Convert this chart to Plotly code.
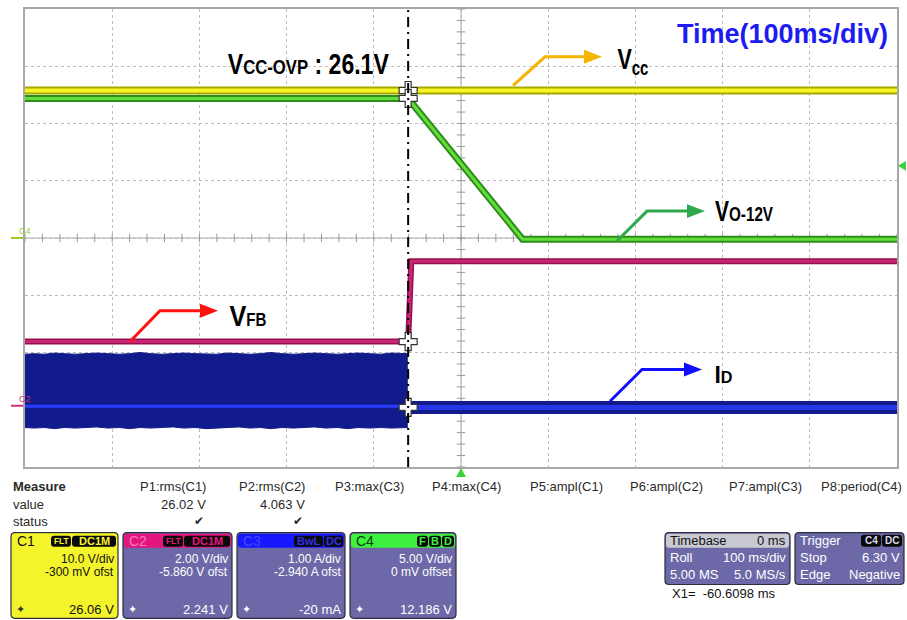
import plotly.graph_objects as go

# ---------------- data ----------------
X_RANGE_MS = [-500, 500]          # 100 ms/div, 10 divisions
Y_RANGE_DIV = [-4, 4]             # 8 vertical divisions

CH_NAMES = ["C1", "C2", "C3", "C4"]
CH_SCALE = [10.0, 2.00, 1.00, 5.00]        # units / div
CH_OFFSET = [-0.300, -5.860, -2.940, 0.0]  # offset (V or A)

CURSOR_X1_MS = -60.6098
CURSOR_VALUES = [26.06, 2.241, -0.020, 12.186]   # C1, C2, C3, C4 at X1
TRIGGER_LEVEL_V = 6.30                           # on C4
TRIGGER_TIME_MS = 0.0

# C1 : Vcc (V)
vcc_t = [-500, 500]
vcc_v = [26.06, 26.06]

# C4 : Vo-12V (V)
vo_t = [-500, -60.61, 70.5, 500]
vo_v = [12.186, 12.186, -0.10, -0.10]

# C2 : VFB (V)
vfb_t = [-500, -60.61, -57.0, 500]
vfb_v = [2.241, 2.241, 5.05, 5.05]

# C3 : ID (A) switching burst envelope before OVP stop
id_burst_t = [-500, -490, -478, -466, -455, -442, -430, -418, -405, -392, -380, -368, -356,
              -343, -330, -318, -305, -292, -280, -268, -255, -242, -230, -218, -205, -192,
              -180, -168, -155, -142, -130, -118, -105, -92, -80, -70, -61]
id_burst_hi = [0.91, 0.92, 0.91, 0.93, 0.92, 0.91, 0.92, 0.93, 0.92, 0.91, 0.92, 0.94, 0.92,
               0.91, 0.92, 0.93, 0.92, 0.92, 0.91, 0.93, 0.92, 0.91, 0.92, 0.94, 0.92, 0.91,
               0.92, 0.93, 0.92, 0.91, 0.92, 0.93, 0.92, 0.91, 0.93, 0.92, 0.92]
id_burst_lo = [-0.37, -0.38, -0.37, -0.39, -0.37, -0.38, -0.37, -0.36, -0.38, -0.37, -0.39, -0.37,
               -0.38, -0.37, -0.36, -0.38, -0.37, -0.39, -0.38, -0.37, -0.36, -0.38, -0.37, -0.39,
               -0.37, -0.38, -0.37, -0.36, -0.38, -0.37, -0.39, -0.37, -0.38, -0.37, -0.38, -0.37, -0.37]
id_burst_mid_t = [-500, -61]
id_burst_mid_v = [0.0, 0.0]
id_after_t = [-60.61, 500]
id_after_v = [-0.02, -0.02]

# measurement panel text
MEAS_HEADERS = ["P1:rms(C1)", "P2:rms(C2)", "P3:max(C3)", "P4:max(C4)",
                "P5:ampl(C1)", "P6:ampl(C2)", "P7:ampl(C3)", "P8:period(C4)"]
MEAS_VALUES = ["26.02 V", "4.063 V", "", "", "", "", "", ""]
MEAS_STATUS = ["✔", "✔", "", "", "", "", "", ""]
CH_LINE1 = ["10.0 V/div", "2.00 V/div", "1.00 A/div", "5.00 V/div"]
CH_LINE2 = ["-300 mV ofst", "-5.860 V ofst", "-2.940 A ofst", "0 mV offset"]
CH_READOUT = ["26.06 V", "2.241 V", "-20 mA", "12.186 V"]
CH_BADGES = [["FLT", "DC1M"], ["FLT", "DC1M"], ["BwL", "DC"], ["F", "B", "D"]]
TIMEBASE_ROWS = [("Timebase", "0 ms"), ("Roll", "100 ms/div"), ("5.00 MS", "5.0 MS/s")]
TRIGGER_ROWS = [("Trigger", ""), ("Stop", "6.30 V"), ("Edge", "Negative")]
TRIGGER_BADGES = ["C4", "DC"]

# ---------------- helpers ----------------
W, H = 907, 620
L, R, T, B = 25, 897, 7, 467


def PX(x):
    return (x - L) / (R - L)


def PY(y):
    return (B - y) / (B - T)


def to_div(ch, vals):
    i = CH_NAMES.index(ch)
    return [(v + CH_OFFSET[i]) / CH_SCALE[i] for v in vals]


def div_to_py(d):
    return B - (d - Y_RANGE_DIV[0]) / (Y_RANGE_DIV[1] - Y_RANGE_DIV[0]) * (B - T)


def ms_to_px(t):
    return L + (t - X_RANGE_MS[0]) / (X_RANGE_MS[1] - X_RANGE_MS[0]) * (R - L)


fig = go.Figure()


def band(t, v, outer, ow, inner, iw):
    fig.add_trace(go.Scatter(x=t, y=v, mode="lines", line=dict(color=outer, width=ow),
                             hoverinfo="skip"))
    fig.add_trace(go.Scatter(x=t, y=v, mode="lines", line=dict(color=inner, width=iw),
                             hoverinfo="skip"))


# center graticule tick marks
tick_x = list(range(-500, 501, 20))
fig.add_trace(go.Scatter(x=tick_x, y=[0] * len(tick_x), mode="markers",
                         marker=dict(symbol="line-ns", size=6, line=dict(color="#9a9a9a", width=1)),
                         hoverinfo="skip"))
tick_y = [-4 + 0.2 * k for k in range(41)]
fig.add_trace(go.Scatter(x=[0] * len(tick_y), y=tick_y, mode="markers",
                         marker=dict(symbol="line-ew", size=6, line=dict(color="#9a9a9a", width=1)),
                         hoverinfo="skip"))

# C3 ID burst
NAVY = "#121b8c"
fig.add_trace(go.Scatter(x=id_burst_t, y=to_div("C3", id_burst_lo), mode="lines",
                         line=dict(color=NAVY, width=1), hoverinfo="skip"))
fig.add_trace(go.Scatter(x=id_burst_t, y=to_div("C3", id_burst_hi), mode="lines",
                         line=dict(color=NAVY, width=1), fill="tonexty",
                         fillcolor=NAVY, hoverinfo="skip"))
fig.add_trace(go.Scatter(x=id_burst_mid_t, y=to_div("C3", id_burst_mid_v), mode="lines",
                         line=dict(color="#2a3cff", width=3), hoverinfo="skip"))
band(id_after_t, to_div("C3", id_after_v), NAVY, 13, "#2436e6", 5)

# C2 VFB
band(vfb_t, to_div("C2", vfb_v), "#961050", 6, "#cc2474", 3)
# C4 Vo
band(vo_t, to_div("C4", vo_v), "#2f8c1f", 7, "#62de3a", 3)
# C1 Vcc
band(vcc_t, to_div("C1", vcc_v), "#a8a800", 8, "#f6f624", 4)

# cursor crosses
cross_y = [to_div(ch, [v])[0] for ch, v in zip(CH_NAMES, CURSOR_VALUES)]
fig.add_trace(go.Scatter(x=[CURSOR_X1_MS] * 4, y=cross_y, mode="markers",
                         marker=dict(symbol="cross", size=15, color="white",
                                     line=dict(color="#333333", width=1.2)),
                         hoverinfo="skip"))

shapes = []
annotations = []

# trigger markers (drawn outside the grid, so as paper-space triangles)
TRIG_GREEN = "#3ad23a"
ty = div_to_py(to_div("C4", [TRIGGER_LEVEL_V])[0])
shapes.append(dict(type="path", xref="paper", yref="paper", fillcolor=TRIG_GREEN,
                   line=dict(width=0),
                   path="M{},{} L{},{} L{},{} Z".format(PX(R + 1), PY(ty), PX(R + 9), PY(ty - 5),
                                                       PX(R + 9), PY(ty + 5))))
tx = ms_to_px(TRIGGER_TIME_MS)
shapes.append(dict(type="path", xref="paper", yref="paper", fillcolor=TRIG_GREEN,
                   line=dict(width=0),
                   path="M{},{} L{},{} L{},{} Z".format(PX(tx), PY(B + 1), PX(tx - 5), PY(B + 10),
                                                       PX(tx + 5), PY(B + 10))))

# center axes
shapes.append(dict(type="line", xref="x", yref="y domain", x0=0, x1=0, y0=0, y1=1,
                   line=dict(color="#a8a8a8", width=1), layer="below"))
shapes.append(dict(type="line", xref="x domain", yref="y", x0=0, x1=1, y0=0, y1=0,
                   line=dict(color="#a8a8a8", width=1), layer="below"))

# cursor line
shapes.append(dict(type="line", xref="x", yref="y domain", x0=CURSOR_X1_MS, x1=CURSOR_X1_MS,
                   y0=0, y1=1, line=dict(color="black", width=2, dash="10px,5px,2px,5px"),
                   layer="above"))

# left channel ground markers
for ch, col in [("C4", "#9ccc2c"), ("C2", "#d0307a")]:
    g = to_div(ch, [0.0])[0]
    shapes.append(dict(type="line", xref="paper", yref="y", x0=PX(11), x1=PX(23), y0=g, y1=g,
                       line=dict(color=col, width=2)))
    annotations.append(dict(xref="paper", yref="y", x=PX(17), y=g, yshift=7, text=ch,
                            showarrow=False, font=dict(size=9, color=col,
                                                       family="Liberation Sans, Arial")))

FN = "Liberation Sans Narrow, Arial Narrow, Liberation Sans, Arial, sans-serif"
FA = "Liberation Sans, Arial, sans-serif"


def label(xc, y, text, size=29, color="black", family=FN, weight="bold"):
    annotations.append(dict(xref="paper", yref="paper", x=PX(xc), y=PY(y), text=text,
                            xanchor="center", yanchor="middle", showarrow=False,
                            font=dict(size=size, color=color, family=family, weight=weight)))


label(308.5, 62, "V<span style='font-size:21px'>CC-OVP</span> : 26.1V")
label(632.5, 59, "V<sub>cc</sub>")
label(744, 210, "V<span style='font-size:21px'>O-12V</span>")
label(248.5, 315, "V<span style='font-size:18px'>FB</span>", size=30)
label(723, 374, "I<span style='font-size:17px'>D</span>", size=24)
label(782, 32, "Time(100ms/div)", size=27, color="#1c1cf0", family=FA)

# narrow-font emulation: compress these labels to the widths measured on the reference
NARROW_JS = """
(function(){
  var targets = {"VCC-OVP:26.1V":161, "Vcc":31, "VO-12V":58, "VFB":37, "ID":18};
  function fix(){
    document.querySelectorAll('text.annotation-text').forEach(function(t){
      var k = t.textContent.replace(/[\\s\\u200b\\u00a0]/g, '');
      if (targets[k]) {
        t.setAttribute('textLength', targets[k]);
        t.setAttribute('lengthAdjust', 'spacingAndGlyphs');
      }
    });
  }
  document.body.style.margin = '0';
  fix(); setTimeout(fix, 30); setTimeout(fix, 300);
})();
"""


def bent_arrow(p0, p1, tip, color):
    hx = tip[0] - 17
    path = "M{},{} L{},{} L{},{}".format(PX(p0[0]), PY(p0[1]), PX(p1[0]), PY(p1[1]), PX(hx), PY(tip[1]))
    shapes.append(dict(type="path", xref="paper", yref="paper", path=path,
                       line=dict(color=color, width=3)))
    tri = "M{},{} L{},{} L{},{} Z".format(PX(tip[0]), PY(tip[1]), PX(hx - 1), PY(tip[1] - 7),
                                          PX(hx - 1), PY(tip[1] + 7))
    shapes.append(dict(type="path", xref="paper", yref="paper", path=tri,
                       line=dict(color=color, width=0), fillcolor=color))


bent_arrow((513, 84), (545, 55), (602, 55), "#f5b400")
bent_arrow((617, 240), (647, 210), (705, 210), "#2ea84a")
bent_arrow((130, 341), (160, 310), (218, 310), "#ff1010")
bent_arrow((610, 401), (642, 369), (702, 369), "#1010ff")

# ---------------- bottom measurement panel ----------------
TXT = "#2a2a2a"


def ptext(x, y, text, anchor="left", size=13, color=TXT, weight="normal"):
    annotations.append(dict(xref="paper", yref="paper", x=PX(x), y=PY(y), text=text,
                            xanchor=anchor, yanchor="middle", showarrow=False,
                            font=dict(size=size, color=color, family=FA, weight=weight)))


def rrect(x0, y0, x1, y1, r, fill, line_color=None, lw=0):
    p = ("M{a},{b} L{c},{b} Q{d},{b} {d},{e} L{d},{f} Q{d},{g} {c},{g} L{a},{g} "
         "Q{h},{g} {h},{f} L{h},{e} Q{h},{b} {a},{b} Z").format(
        a=PX(x0 + r), b=PY(y0), c=PX(x1 - r), d=PX(x1), e=PY(y0 + r), f=PY(y1 - r),
        g=PY(y1), h=PX(x0))
    shapes.append(dict(type="path", xref="paper", yref="paper", path=p, fillcolor=fill,
                       line=dict(color=line_color or fill, width=lw)))


ptext(11, 487, "Measure", weight="bold")
ptext(11, 505, "value")
ptext(11, 522, "status")
head_right = [208, 307, 406, 503, 605, 705, 804, 904]
for hdr, val, st, xr in zip(MEAS_HEADERS, MEAS_VALUES, MEAS_STATUS, head_right):
    ptext(xr, 487, hdr, anchor="right")
    if val:
        ptext(xr, 505, val, anchor="right")
    if st:
        ptext(xr - 2, 521, st, anchor="right", size=12)

BODY = "#6d69a8"
boxes = [(11, 118), (123, 232), (237, 345), (350, 456)]
heads = ["#f4f42a", "#e4157f", "#1818ff", "#3ef03e"]
head_txt = ["#111111", "#f080b8", "#4848ff", "#0c3c0c"]
badge_txt = ["#f4f42a", "#e4157f", "#3030e0", "#3ef03e"]
badge_w = [[20, 44], [20, 46], [29, 19], [11, 12, 12]]
for i, (x0, x1) in enumerate(boxes):
    body = heads[0] if i == 0 else BODY
    rrect(x0, 533, x1, 619, 4, body, "#2c2c3c", 1.2)
    rrect(x0 + 1, 534, x1 - 1, 548, 3, heads[i])
    ptext(x0 + 4, 541, CH_NAMES[i], size=14, color=head_txt[i])
    # badges right aligned
    bx = x1 - 2
    for b, w in zip(reversed(CH_BADGES[i]), reversed(badge_w[i])):
        rrect(bx - w, 536, bx, 547, 3, "#0a0a0a")
        fs = min(11, (w - 3) / (0.68 * len(b)))
        annotations.append(dict(xref="paper", yref="paper", x=PX(bx - w / 2), y=PY(541.5),
                                text=b, showarrow=False, xanchor="center", yanchor="middle",
                                font=dict(size=fs, color=badge_txt[i], family=FA, weight="bold")))
        bx -= w + 1
    tc = "#111111" if i == 0 else "white"
    ptext(x1 - 2, 559, CH_LINE1[i], anchor="right", color=tc, size=12)
    ptext(x1 - 2, 572, CH_LINE2[i], anchor="right", color=tc, size=12)
    ptext(x1 - 2, 610, CH_READOUT[i], anchor="right", color=tc)
    ptext(x0 + 3, 610, "✦", size=11, color="#333333" if i == 0 else "white")

# timebase / trigger boxes
rrect(665, 533, 790, 585, 4, BODY, "#2c2c3c", 1.2)
rrect(666, 534, 789, 548, 3, "#c9c9d2")
for j, (a, b) in enumerate(TIMEBASE_ROWS):
    yy = 541 + j * 17
    c = "#111111" if j == 0 else "white"
    ptext(668, yy, a, color=c)
    ptext(788, yy, b, anchor="right", color=c)
rrect(795, 533, 904, 585, 4, BODY, "#2c2c3c", 1.2)
for j, (a, b) in enumerate(TRIGGER_ROWS):
    yy = 541 + j * 17
    ptext(798, yy, a, color="white")
    if b:
        ptext(902, yy, b, anchor="right", color="white")
bx = 902
for b in reversed(TRIGGER_BADGES):
    w = 20
    rrect(bx - w, 535, bx, 547, 3, "#0a0a0a")
    annotations.append(dict(xref="paper", yref="paper", x=PX(bx - w / 2), y=PY(541),
                            text=b, showarrow=False, xanchor="center", yanchor="middle",
                            font=dict(size=10, color="#d8d8e8", family=FA, weight="bold")))
    bx -= w + 1
ptext(670, 594, "X1=  {:.4f} ms".format(CURSOR_X1_MS), color="#111111")

axis_common = dict(showgrid=True, griddash="dot", gridcolor="#bdbdbd", gridwidth=1,
                   zeroline=False, showticklabels=False, ticks="", showline=True, mirror=True,
                   linecolor="#a8a8a8", linewidth=2, fixedrange=True)
fig.update_layout(
    width=W, height=H, margin=dict(l=L, r=W - R, t=T, b=H - B),
    plot_bgcolor="white", paper_bgcolor="white", showlegend=False,
    xaxis=dict(range=X_RANGE_MS, dtick=100, tick0=-500, **axis_common),
    yaxis=dict(range=Y_RANGE_DIV, dtick=1, tick0=-4, **axis_common),
    shapes=shapes, annotations=annotations,
)
fig.write_html("out.html", post_script=NARROW_JS, config={"displayModeBar": False})
